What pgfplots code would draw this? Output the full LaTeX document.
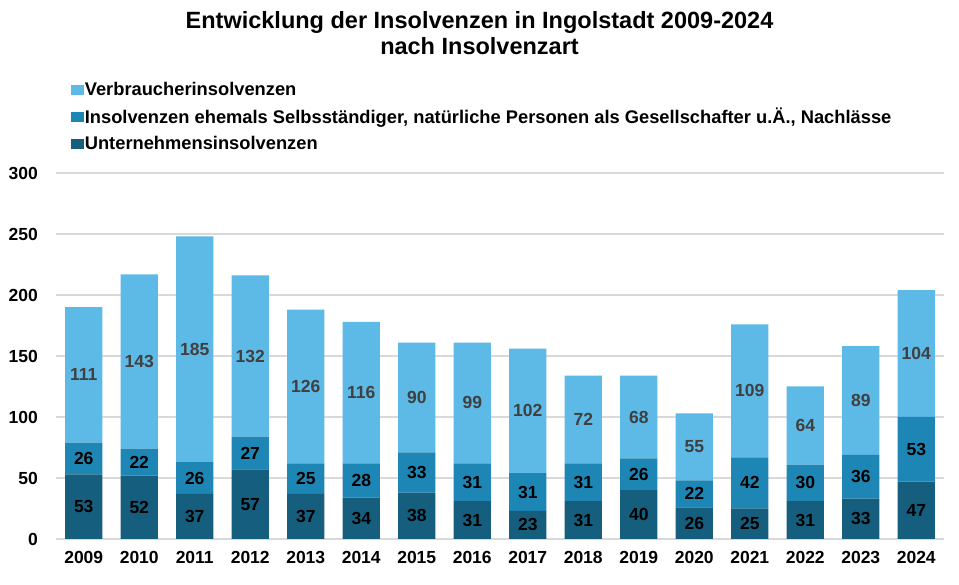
\documentclass[border=0pt]{standalone}
\usepackage{pgfplots}
\usepackage{pgfplotstable}
\pgfplotsset{compat=1.18}
\usepackage{fontspec}
\setmainfont{Liberation Sans}
\definecolor{cV}{HTML}{5DB9E5}
\definecolor{cI}{HTML}{1E86B5}
\definecolor{cU}{HTML}{165E7E}
\definecolor{cG}{HTML}{D9D9D9}
\definecolor{cT}{HTML}{404040}
\pgfplotstableread{
idx year u i v
0 2009 53 26 111
1 2010 52 22 143
2 2011 37 26 185
3 2012 57 27 132
4 2013 37 25 126
5 2014 34 28 116
6 2015 38 33 90
7 2016 31 31 99
8 2017 23 31 102
9 2018 31 31 72
10 2019 40 26 68
11 2020 26 22 55
12 2021 25 42 109
13 2022 31 30 64
14 2023 33 36 89
15 2024 47 53 104
}\data
\begin{document}
\begin{tikzpicture}
\path[use as bounding box] (0,0) rectangle (959bp,585bp);
\node[align=center,font=\fontsize{23.5bp}{26.5bp}\selectfont\bfseries] at (479.5bp,552bp) {Entwicklung der Insolvenzen in Ingolstadt 2009-2024\\nach Insolvenzart};
\begin{axis}[
  at={(56bp,46bp)}, anchor=south west,
  scale only axis, width=888bp, height=366bp,
  ybar stacked, bar width=37.3bp,
  xmin=-0.5, xmax=15.5, ymin=0, ymax=300,
  ytick={0,50,100,150,200,250,300},
  yticklabels={0,50,100,150,200,250,300},
  xtick={0,...,15},
  xticklabels={2009,2010,2011,2012,2013,2014,2015,2016,2017,2018,2019,2020,2021,2022,2023,2024},
  major tick length=0pt,
  axis line style={draw=none},
  ymajorgrids, grid style={cG, line width=1.3bp},
  tick label style={font=\fontsize{17.5bp}{20bp}\selectfont\bfseries, inner sep=0pt},
  yticklabel style={xshift=-18bp},
  xticklabel style={yshift=-12bp},
  point meta=explicit symbolic,
  nodes near coords,
  every node near coord/.append style={font=\fontsize{17.5bp}{20bp}\selectfont\bfseries, anchor=center, inner sep=0pt},
  legend style={at={(0.0165,1.251)}, anchor=north west, draw=none, fill=none,
    font=\fontsize{18.3bp}{21bp}\selectfont\bfseries, row sep=9bp, inner sep=0pt,
    nodes={inner sep=1bp}},
  legend cell align=left,
  reverse legend,
  legend image code/.code={\path (0bp,-5bp) rectangle (13bp,5bp); \fill[#1] (0bp,-5bp) rectangle (10bp,5bp);},
]
\addplot[fill=cU, draw=none, every node near coord/.append style={black}] table[x=idx, y=u, meta=u] {\data};
\addplot[fill=cI, draw=none, every node near coord/.append style={black}] table[x=idx, y=i, meta=i] {\data};
\addplot[fill=cV, draw=none, every node near coord/.append style={cT}] table[x=idx, y=v, meta=v] {\data};
\legend{Unternehmensinsolvenzen, {Insolvenzen ehemals Selbsständiger, natürliche Personen als Gesellschafter u.Ä., Nachlässe}, Verbraucherinsolvenzen}
\end{axis}
\end{tikzpicture}
\end{document}
